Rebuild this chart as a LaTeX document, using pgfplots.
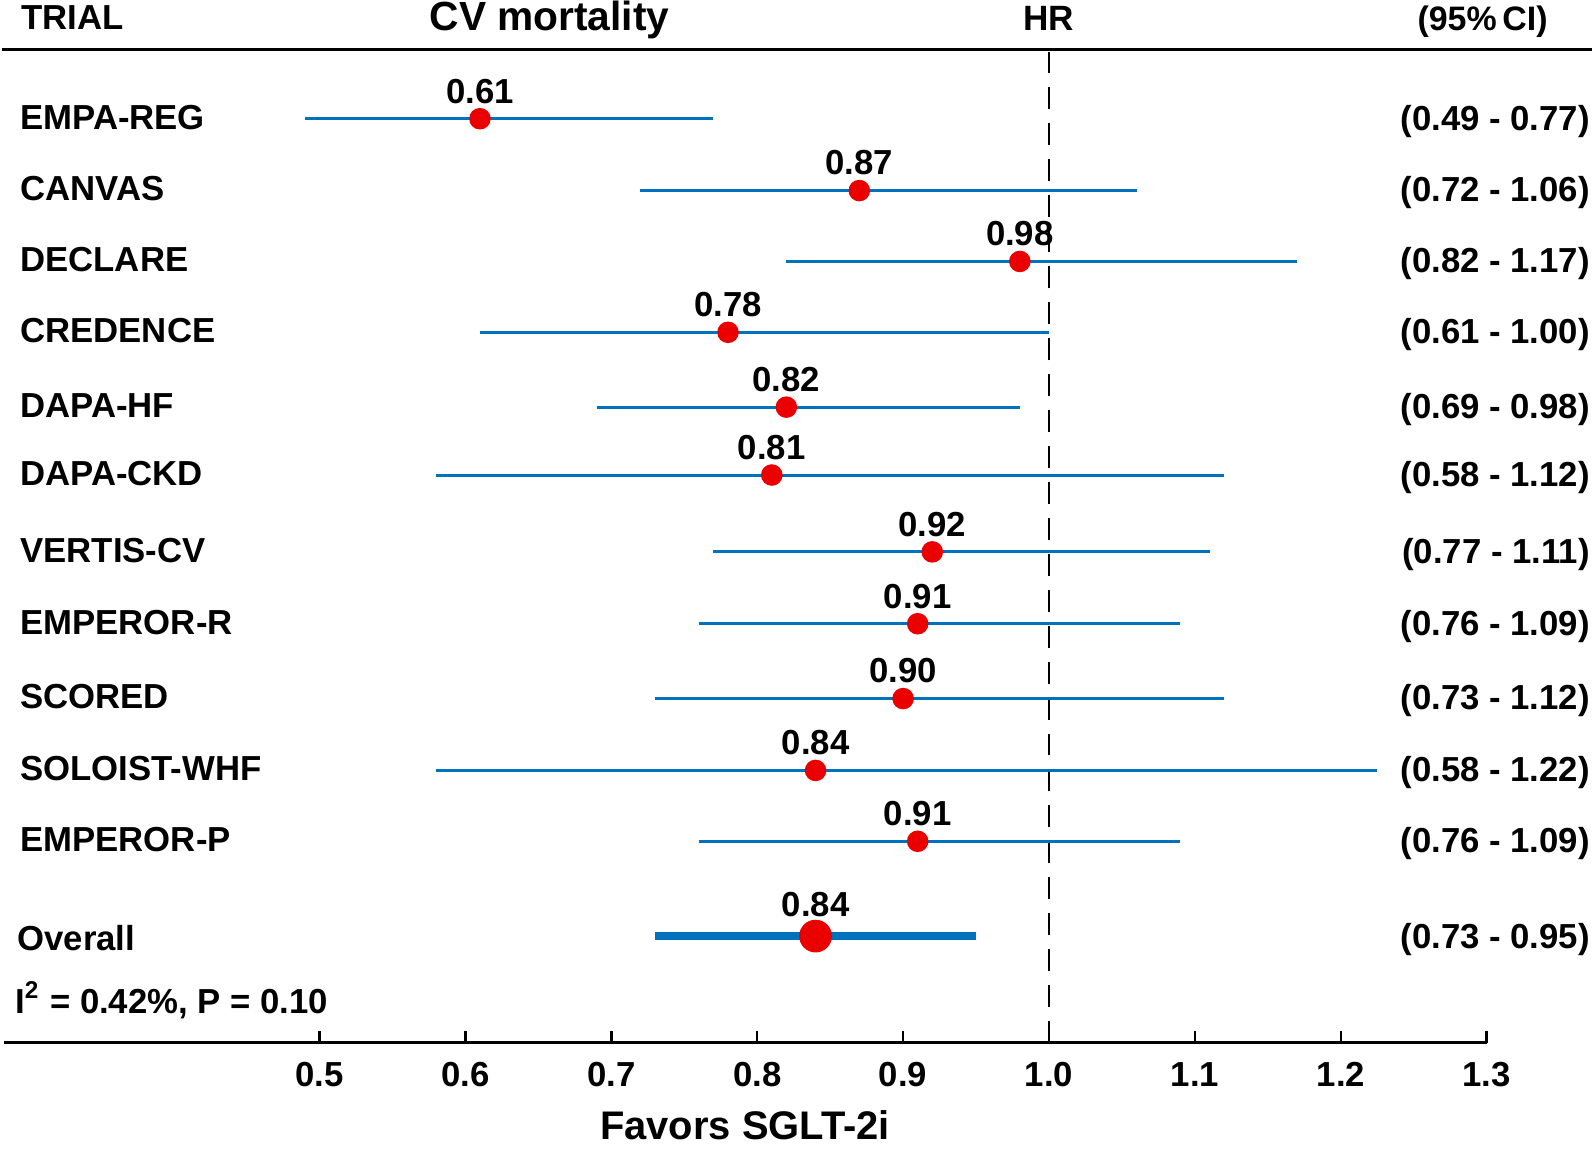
\documentclass[border=0pt]{standalone}
\usepackage{fontspec}
\setmainfont{Liberation Sans}
\usepackage{pgfplots}
\pgfplotsset{compat=1.18}
\usepackage{pgfplotstable}
\definecolor{ciblue}{RGB}{0,114,189}
\definecolor{ptred}{RGB}{235,0,0}

% y = vertical position of each row (layout, top to bottom)
\pgfplotstableread{
name y hr lo hi lab ci
EMPA-REG -119 0.61 0.49 0.77 0.61 {(0.49 - 0.77)}
CANVAS -191 0.87 0.72 1.06 0.87 {(0.72 - 1.06)}
DECLARE -262 0.98 0.82 1.17 0.98 {(0.82 - 1.17)}
CREDENCE -333 0.78 0.61 1.00 0.78 {(0.61 - 1.00)}
DAPA-HF -408 0.82 0.69 0.98 0.82 {(0.69 - 0.98)}
DAPA-CKD -476 0.81 0.58 1.12 0.81 {(0.58 - 1.12)}
VERTIS-CV -553 0.92 0.77 1.11 0.92 {(0.77 - 1.11)}
EMPEROR-R -625 0.91 0.76 1.09 0.91 {(0.76 - 1.09)}
SCORED -700 0.90 0.73 1.12 0.90 {(0.73 - 1.12)}
SOLOIST-WHF -772 0.84 0.58 1.225 0.84 {(0.58 - 1.22)}
EMPEROR-P -843 0.91 0.76 1.09 0.91 {(0.76 - 1.09)}
}\trials
\pgfplotstableread{
name y hr lo hi lab ci
Overall -938 0.84 0.73 0.95 0.84 {(0.73 - 0.95)}
}\overall

\newcommand{\lf}{\fontsize{8.7}{10}\selectfont\bfseries}

\begin{document}
\begin{tikzpicture}
\begin{axis}[
  scale only axis, width=371.5pt, height=248.75pt,
  xmin=0.2836, xmax=1.3, ymin=-1045, ymax=-50,
  axis x line*=bottom, axis y line=none,
  x axis line style={-, line width=0.8pt},
  xtick={0.5,0.6,0.7,0.8,0.9,1.0,1.1,1.2,1.3},
  xticklabels={0.5,0.6,0.7,0.8,0.9,1.0,1.1,1.2,1.3},
  tick align=inside, major tick length=3pt,
  major tick style={line width=0.65pt, black},
  xticklabel style={font=\lf, anchor=base, yshift=-10.8pt, inner sep=0pt},
  /pgf/number format/assume math mode=true,
  clip=false,
]
% bounding frame (invisible)
\path (axis cs:0.28215,0) rectangle (axis cs:1.37244,-1152);
% top rule
\addplot[black, line width=0.8pt, forget plot] coordinates {(0.28215,-50) (1.37244,-50)};
% null line
\addplot[black, line width=0.6pt, dash pattern=on 5.5pt off 3.5pt, forget plot] coordinates {(1,-1045) (1,-52)};

% CIs
\addplot[only marks, mark=none, forget plot,
  error bars/.cd, x dir=both, x explicit, error mark=none,
  error bar style={draw=ciblue, line width=0.75pt}]
  table[x=hr, y=y, x error plus expr=\thisrow{hi}-\thisrow{hr}, x error minus expr=\thisrow{hr}-\thisrow{lo}] {\trials};
\addplot[only marks, mark=none, forget plot,
  error bars/.cd, x dir=both, x explicit, error mark=none,
  error bar style={draw=ciblue, line width=2pt}]
  table[x=hr, y=y, x error plus expr=\thisrow{hi}-\thisrow{hr}, x error minus expr=\thisrow{hr}-\thisrow{lo}] {\overall};

% points + HR labels
\addplot[only marks, mark=*, mark size=2.5pt, mark options={draw=ptred, fill=ptred},
  nodes near coords, point meta=explicit symbolic,
  nodes near coords style={font=\lf, text=black, anchor=center, yshift=6.9pt, inner sep=0pt}]
  table[x=hr, y=y, meta=lab] {\trials};
\addplot[only marks, mark=*, mark size=3.9pt, mark options={draw=ptred, fill=ptred},
  nodes near coords, point meta=explicit symbolic,
  nodes near coords style={font=\lf, text=black, anchor=center, yshift=7.9pt, inner sep=0pt}]
  table[x=hr, y=y, meta=lab] {\overall};

% trial names
\addplot[only marks, mark=none, nodes near coords, point meta=explicit symbolic,
  nodes near coords style={font=\lf, text=black, anchor=west, inner sep=0pt, text height=6.2pt, text depth=0pt}]
  table[x expr=0.2945, y expr=\thisrow{y}+2, meta=name] {\trials};
\addplot[only marks, mark=none, nodes near coords, point meta=explicit symbolic,
  nodes near coords style={font=\lf, text=black, anchor=west, inner sep=0pt, text height=6.2pt, text depth=0pt}]
  table[x expr=0.2925, y expr=\thisrow{y}-2, meta=name] {\overall};
% CI texts
\addplot[only marks, mark=none, nodes near coords, point meta=explicit symbolic,
  nodes near coords style={font=\lf, text=black, anchor=east, inner sep=0pt, text height=6.2pt, text depth=0pt}]
  table[x expr=1.3711, y expr=\thisrow{y}+1, meta=ci] {\trials};
\addplot[only marks, mark=none, nodes near coords, point meta=explicit symbolic,
  nodes near coords style={font=\lf, text=black, anchor=east, inner sep=0pt, text height=6.2pt, text depth=0pt}]
  table[x expr=1.3711, y expr=\thisrow{y}, meta=ci] {\overall};

% headers
\node[anchor=base west, inner sep=0pt, font=\fontsize{8.7}{10}\selectfont\bfseries] at (axis cs:0.2951,-30) {TRIAL};
\node[anchor=base, inner sep=0pt, font=\fontsize{10.2}{12}\selectfont\bfseries] at (axis cs:0.6577,-31) {CV mortality};
\node[anchor=base, inner sep=0pt, font=\fontsize{8.8}{10}\selectfont\bfseries] at (axis cs:0.9996,-31) {HR};
\node[anchor=base east, inner sep=0pt, font=\fontsize{8.5}{10}\selectfont\bfseries] at (axis cs:1.3423,-31) {(95\%\,CI)};
% heterogeneity
\node[anchor=base west, inner sep=0pt, font=\lf] at (axis cs:0.2910,-1016) {I\textsuperscript{2} = 0.42\%, P = 0.10};
% x label
\node[anchor=base, inner sep=0pt, font=\fontsize{10}{12}\selectfont\bfseries] at (axis cs:0.7917,-1142) {Favors SGLT-2i};
\end{axis}
\end{tikzpicture}
\end{document}
